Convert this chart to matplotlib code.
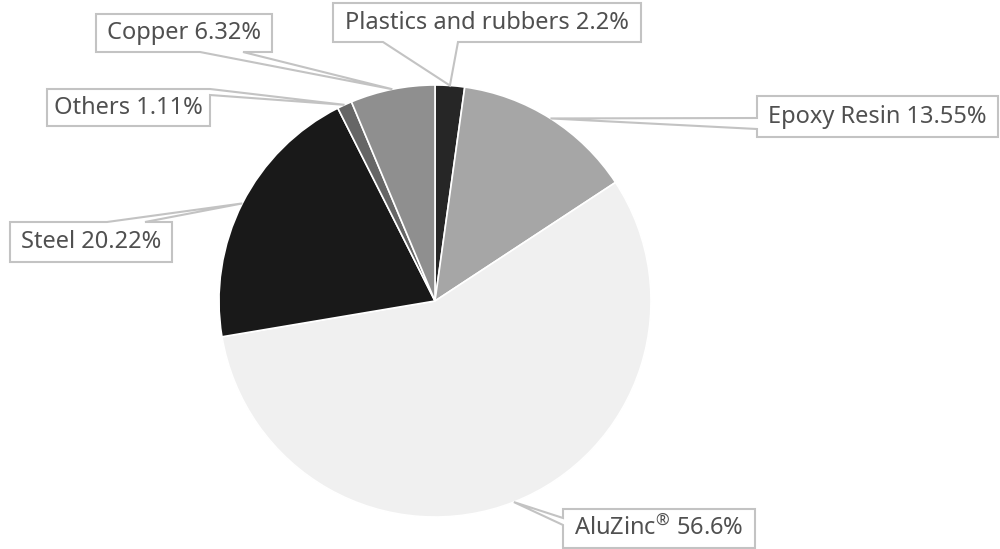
import numpy as np
import matplotlib
matplotlib.use("Agg")
import matplotlib.pyplot as plt
from matplotlib.patches import Polygon

labels = ["Plastics and rubbers", "Epoxy Resin", "AluZinc®", "Steel", "Others", "Copper"]
values = [2.2, 13.55, 56.6, 20.22, 1.11, 6.32]
label_texts = ["Plastics and rubbers 2.2%", "Epoxy Resin 13.55%", "AluZinc$^{®}$ 56.6%",
               "Steel 20.22%", "Others 1.11%", "Copper 6.32%"]
colors = ["#262626", "#a6a6a6", "#f0f0f0", "#191919", "#666666", "#8f8f8f"]

W, H = 1000, 549
CX, CY, R = 435, 301, 216  # pie centre / radius in pixels

# callout layout (pixels from top-left): box x0, x1, y0, y1, edge, tail base a, b
layout = {
    "Plastics and rubbers": (333, 641, 3, 42, "bottom", 383, 458),
    "Epoxy Resin": (757, 998, 96, 137, "left", 118, 129),
    "AluZinc®": (563, 755, 509, 548, "left", 518, 525),
    "Steel": (10, 172, 222, 262, "top", 107, 145),
    "Others": (47, 210, 89, 126, "right", 89, 95),
    "Copper": (96, 272, 14, 52, "bottom", 200, 243),
}

plt.rcParams['font.family'] = ['Noto Sans', 'DejaVu Sans']
plt.rcParams['mathtext.fontset'] = 'custom'
plt.rcParams['mathtext.rm'] = 'Noto Sans'
plt.rcParams['mathtext.it'] = 'Noto Sans'
plt.rcParams['mathtext.default'] = 'regular'

fig = plt.figure(figsize=(W / 100, H / 100), dpi=100)
ax = fig.add_axes([0, 0, 1, 1])
ax.axis("off")

wedges, _ = ax.pie(values, colors=colors, startangle=90, counterclock=False,
                   radius=1.0, center=(0, 0),
                   wedgeprops=dict(edgecolor="white", linewidth=1.2))
ax.set_xlim(-CX / R, (W - CX) / R)
ax.set_ylim(-(H - CY) / R, CY / R)


def P(x, y):
    return ((x - CX) / R, (CY - y) / R)


LC = "#c3c3c3"
for lab, txt, w in zip(labels, label_texts, wedges):
    theta = np.deg2rad((w.theta1 + w.theta2) / 2)
    apex = (np.cos(theta), np.sin(theta))
    x0, x1, y0, y1, edge, a, b = layout[lab]
    if edge == "bottom":
        pts = [P(x0, y0), P(x1, y0), P(x1, y1), P(b, y1), apex, P(a, y1), P(x0, y1)]
    elif edge == "top":
        pts = [P(x0, y0), P(a, y0), apex, P(b, y0), P(x1, y0), P(x1, y1), P(x0, y1)]
    elif edge == "left":
        pts = [P(x0, y0), P(x1, y0), P(x1, y1), P(x0, y1), P(x0, b), apex, P(x0, a)]
    else:  # right
        pts = [P(x0, y0), P(x1, y0), P(x1, a), apex, P(x1, b), P(x1, y1), P(x0, y1)]
    ax.add_patch(Polygon(pts, closed=True, facecolor="white", edgecolor=LC,
                         linewidth=1.5, zorder=5))
    tx, ty = P((x0 + x1) / 2, (y0 + y1) / 2)
    ax.text(tx, ty, txt, ha="center", va="center", fontsize=17,
            color="#505050", zorder=6)

fig.savefig("out.png", dpi=100, facecolor="white")
